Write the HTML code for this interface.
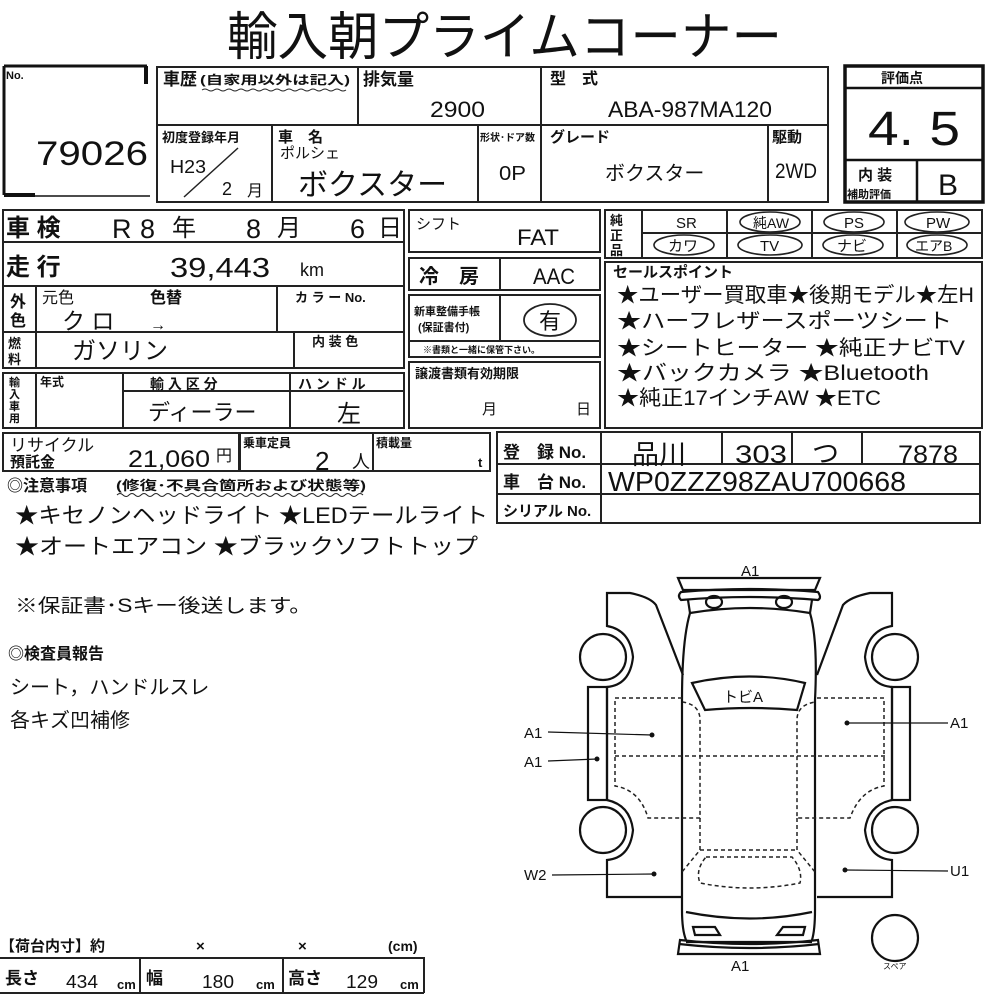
<!DOCTYPE html>
<html><head><meta charset="utf-8"><style>
html,body{margin:0;padding:0;background:#fff;}
svg{display:block;}
text{font-family:"Liberation Sans","Noto Sans CJK JP",sans-serif;fill:#111;}
.b{font-weight:bold;}
</style></head><body>
<svg width="1000" height="1000" viewBox="0 0 1000 1000" xmlns="http://www.w3.org/2000/svg">
<text x="227" y="55" font-size="52" textLength="555" lengthAdjust="spacingAndGlyphs">輸入朝プライムコーナー</text>

<g stroke="#111" fill="none">
<path d="M4 66 H147 M4 66 V195" stroke-width="3"/>
<path d="M146 66 V84" stroke-width="4"/>
<path d="M4 195 H35" stroke-width="4"/>
<path d="M35 196 H150" stroke-width="1.5"/>
</g>
<text x="6" y="79" font-size="11" class="b">No.</text>
<text x="36" y="165" font-size="34" textLength="112" lengthAdjust="spacingAndGlyphs">79026</text>

<g stroke="#222" fill="none" stroke-width="2">
<rect x="157" y="67" width="671" height="135"/>
<path d="M157 125 H828 M358 67 V125 M541 67 V202 M272 125 V202 M478 125 V202 M768 125 V202"/>
</g>
<text x="163" y="85" font-size="17" class="b">車歴</text>
<text x="200" y="84" font-size="12" class="b" textLength="150" lengthAdjust="spacingAndGlyphs">(自家用以外は記入)</text>
<path d="M202 90 q3 -2 6 0 t6 0 t6 0 t6 0 t6 0 t6 0 t6 0 t6 0 t6 0 t6 0 t6 0 t6 0 t6 0 t6 0 t6 0 t6 0 t6 0 t6 0 t6 0 t6 0 t6 0 t6 0 t6 0 t6 0" stroke="#222" fill="none" stroke-width="1"/>
<text x="363" y="85" font-size="17" class="b">排気量</text>
<text x="430" y="117" font-size="22" textLength="55" lengthAdjust="spacingAndGlyphs">2900</text>
<text x="550" y="84" font-size="16" class="b">型　式</text>
<text x="608" y="117" font-size="22" textLength="164" lengthAdjust="spacingAndGlyphs">ABA-987MA120</text>
<text x="162" y="142" font-size="13" class="b">初度登録年月</text>
<text x="170" y="173" font-size="18" textLength="36" lengthAdjust="spacingAndGlyphs">H23</text>
<line x1="184" y1="197" x2="238" y2="148" stroke="#222" stroke-width="1.5"/>
<text x="222" y="195" font-size="18">2</text>
<text x="247" y="196" font-size="16">月</text>
<text x="278" y="142" font-size="15" class="b">車　名</text>
<text x="280" y="158" font-size="15">ポルシェ</text>
<text x="298" y="195" font-size="30">ボクスター</text>
<text x="480" y="141" font-size="10" class="b">形状･ドア数</text>
<text x="499" y="180" font-size="20" textLength="27" lengthAdjust="spacingAndGlyphs">0P</text>
<text x="550" y="142" font-size="15" class="b">グレード</text>
<text x="605" y="180" font-size="20">ボクスター</text>
<text x="772" y="142" font-size="15" class="b">駆動</text>
<text x="775" y="178" font-size="21" textLength="42" lengthAdjust="spacingAndGlyphs">2WD</text>

<g stroke="#111" fill="none">
<rect x="845" y="66" width="138" height="136" stroke-width="3.5"/>
<path d="M845 88 H983 M845 160 H983 M917 160 V202" stroke-width="2.5"/>
</g>
<text x="881" y="83" font-size="14" class="b">評価点</text>
<text x="868" y="145" font-size="48" textLength="92" lengthAdjust="spacingAndGlyphs">4. 5</text>
<text x="858" y="180" font-size="15" class="b">内 装</text>
<text x="847" y="198" font-size="11" class="b">補助評価</text>
<text x="938" y="195" font-size="30">B</text>

<g stroke="#222" fill="none" stroke-width="2">
<rect x="3" y="210" width="401" height="158"/>
<path d="M3 242 H404 M3 286 H404 M3 332 H404 M36 286 V368 M277 286 V332 M294 332 V368"/>
<rect x="3" y="373" width="401" height="55"/>
<path d="M36 373 V428 M123 373 V428 M290 373 V428 M123 391 H404"/>
<rect x="3" y="433" width="236" height="38"/>
<rect x="240" y="433" width="133" height="38"/>
<rect x="373" y="433" width="117" height="38"/>
</g>
<text x="6" y="236" font-size="24" class="b">車 検</text>
<text x="112" y="238" font-size="27">R</text>
<text x="140" y="238" font-size="27">8</text>
<text x="172" y="236" font-size="24">年</text>
<text x="246" y="238" font-size="27">8</text>
<text x="277" y="236" font-size="24">月</text>
<text x="350" y="238" font-size="27">6</text>
<text x="378" y="236" font-size="24">日</text>
<text x="6" y="275" font-size="24" class="b">走 行</text>
<text x="170" y="277" font-size="28" textLength="100" lengthAdjust="spacingAndGlyphs">39,443</text>
<text x="300" y="276" font-size="18">km</text>
<text x="10" y="307" font-size="16" class="b">外</text>
<text x="10" y="326" font-size="16" class="b">色</text>
<text x="42" y="303" font-size="16">元色</text>
<text x="150" y="303" font-size="16" class="b">色替</text>
<text x="62" y="329" font-size="23">ク ロ</text>
<text x="150" y="330" font-size="16">→</text>
<text x="295" y="302" font-size="13" class="b">カ ラ ー No.</text>
<text x="8" y="348" font-size="13" class="b">燃</text>
<text x="8" y="364" font-size="13" class="b">料</text>
<text x="72" y="359" font-size="24">ガソリン</text>
<text x="312" y="346" font-size="13" class="b">内 装 色</text>
<text x="9" y="386" font-size="11" class="b">輸</text>
<text x="9" y="398" font-size="11" class="b">入</text>
<text x="9" y="410" font-size="11" class="b">車</text>
<text x="9" y="422" font-size="11" class="b">用</text>
<text x="40" y="386" font-size="12" class="b">年式</text>
<text x="150" y="389" font-size="14" class="b">輸 入 区 分</text>
<text x="298" y="389" font-size="14" class="b">ハ ン ド ル</text>
<text x="148" y="420" font-size="22">ディーラー</text>
<text x="337" y="422" font-size="24">左</text>
<text x="10" y="451" font-size="17">リサイクル</text>
<text x="10" y="467" font-size="15" class="b">預託金</text>
<text x="128" y="467" font-size="24" textLength="82" lengthAdjust="spacingAndGlyphs">21,060</text>
<text x="216" y="461" font-size="16">円</text>
<text x="243" y="447" font-size="12" class="b">乗車定員</text>
<text x="315" y="470" font-size="26">2</text>
<text x="352" y="468" font-size="18">人</text>
<text x="376" y="447" font-size="12" class="b">積載量</text>
<text x="478" y="467" font-size="13" class="b">t</text>

<g stroke="#222" fill="none" stroke-width="2">
<rect x="409" y="210" width="191" height="42"/>
<rect x="409" y="258" width="191" height="32"/>
<line x1="500" y1="258" x2="500" y2="290"/>
<rect x="409" y="295" width="191" height="62"/>
<path d="M409 341 H600 M500 295 V341"/>
<rect x="409" y="362" width="191" height="66"/>
</g>
<text x="416" y="229" font-size="15">シフト</text>
<text x="517" y="245" font-size="22" textLength="42" lengthAdjust="spacingAndGlyphs">FAT</text>
<text x="419" y="283" font-size="20" class="b">冷　房</text>
<text x="533" y="284" font-size="22" textLength="42" lengthAdjust="spacingAndGlyphs">AAC</text>
<text x="414" y="315" font-size="11" class="b">新車整備手帳</text>
<text x="418" y="331" font-size="11" class="b">(保証書付)</text>
<ellipse cx="550" cy="320" rx="26" ry="16" fill="none" stroke="#222" stroke-width="1.8"/>
<text x="539" y="329" font-size="22">有</text>
<text x="423" y="353" font-size="9" class="b">※書類と一緒に保管下さい。</text>
<text x="415" y="378" font-size="13" class="b">譲渡書類有効期限</text>
<text x="482" y="414" font-size="15">月</text>
<text x="576" y="414" font-size="15">日</text>

<g stroke="#222" fill="none" stroke-width="2">
<rect x="605" y="210" width="377" height="48"/>
<path d="M642 210 V258 M642 233 H982 M727 210 V258 M812 210 V258 M897 210 V258"/>
<rect x="605" y="262" width="377" height="166"/>
</g>
<text x="610" y="225" font-size="13" class="b">純</text>
<text x="610" y="240" font-size="13" class="b">正</text>
<text x="610" y="255" font-size="13" class="b">品</text>
<g fill="none" stroke="#222" stroke-width="1.6">
<ellipse cx="770" cy="222" rx="30" ry="10"/>
<ellipse cx="854" cy="222" rx="30" ry="10"/>
<ellipse cx="937" cy="222" rx="32" ry="10"/>
<ellipse cx="684" cy="245" rx="30" ry="10"/>
<ellipse cx="770" cy="245" rx="32" ry="10"/>
<ellipse cx="853" cy="245" rx="30" ry="10"/>
<ellipse cx="937" cy="245" rx="30" ry="10"/>
</g>
<text x="676" y="228" font-size="15">SR</text>
<text x="753" y="228" font-size="14">純AW</text>
<text x="844" y="228" font-size="15">PS</text>
<text x="926" y="228" font-size="15">PW</text>
<text x="668" y="251" font-size="15">カワ</text>
<text x="760" y="251" font-size="15">TV</text>
<text x="837" y="251" font-size="15">ナビ</text>
<text x="915" y="251" font-size="14">エアB</text>
<text x="613" y="277" font-size="15" class="b">セールスポイント</text>
<text x="617" y="302" font-size="21" textLength="357" lengthAdjust="spacingAndGlyphs">★ユーザー買取車★後期モデル★左H</text>
<text x="617" y="328" font-size="21" textLength="335" lengthAdjust="spacingAndGlyphs">★ハーフレザースポーツシート</text>
<text x="617" y="355" font-size="21" textLength="348" lengthAdjust="spacingAndGlyphs">★シートヒーター ★純正ナビTV</text>
<text x="617" y="380" font-size="21" textLength="312" lengthAdjust="spacingAndGlyphs">★バックカメラ ★Bluetooth</text>
<text x="617" y="405" font-size="21" textLength="264" lengthAdjust="spacingAndGlyphs">★純正17インチAW ★ETC</text>

<g stroke="#222" fill="none" stroke-width="2">
<rect x="497" y="432" width="483" height="91"/>
<path d="M497 464 H980 M497 494 H980 M601 432 V523 M722 432 V464 M792 432 V464 M862 432 V464"/>
</g>
<text x="503" y="458" font-size="17" class="b">登　録 No.</text>
<text x="503" y="488" font-size="17" class="b">車　台 No.</text>
<text x="503" y="516" font-size="15" class="b">シリアル No.</text>
<text x="632" y="464" font-size="27">品川</text>
<text x="735" y="463" font-size="25" textLength="52" lengthAdjust="spacingAndGlyphs">303</text>
<text x="812" y="463" font-size="27">つ</text>
<text x="898" y="463" font-size="25" textLength="60" lengthAdjust="spacingAndGlyphs">7878</text>
<text x="608" y="491" font-size="28" textLength="298" lengthAdjust="spacingAndGlyphs">WP0ZZZ98ZAU700668</text>

<text x="7" y="491" font-size="16" class="b">◎注意事項</text>
<text x="116" y="490" font-size="13" class="b" textLength="250" lengthAdjust="spacingAndGlyphs">(修復･不具合箇所および状態等)</text>
<path d="M117 495 q3 -3 6 0 t6 0 t6 0 t6 0 t6 0 t6 0 t6 0 t6 0 t6 0 t6 0 t6 0 t6 0 t6 0 t6 0 t6 0 t6 0 t6 0 t6 0 t6 0 t6 0 t6 0 t6 0 t6 0 t6 0 t6 0 t6 0 t6 0 t6 0 t6 0 t6 0 t6 0 t6 0 t6 0 t6 0 t6 0 t6 0 t6 0 t6 0 t6 0 t6 0 t6 0" stroke="#222" fill="none" stroke-width="1"/>
<text x="15" y="523" font-size="22" textLength="473" lengthAdjust="spacingAndGlyphs">★キセノンヘッドライト ★LEDテールライト</text>
<text x="15" y="554" font-size="22" textLength="463" lengthAdjust="spacingAndGlyphs">★オートエアコン ★ブラックソフトトップ</text>
<text x="15" y="612" font-size="19" textLength="297" lengthAdjust="spacingAndGlyphs">※保証書･Sキー後送します。</text>
<text x="8" y="659" font-size="16" class="b">◎検査員報告</text>
<text x="10" y="694" font-size="20">シート，ハンドルスレ</text>
<text x="10" y="727" font-size="20">各キズ凹補修</text>

<text x="0" y="951" font-size="15" class="b">【荷台内寸】約</text>
<text x="196" y="951" font-size="15" class="b">×</text>
<text x="298" y="951" font-size="15" class="b">×</text>
<text x="388" y="951" font-size="14" class="b">(cm)</text>
<g stroke="#222" fill="none" stroke-width="2">
<path d="M0 958 H424 V993 M0 993 H424 M140 958 V993 M283 958 V993"/>
</g>
<text x="5" y="984" font-size="17" class="b">長さ</text>
<text x="66" y="988" font-size="18" textLength="32" lengthAdjust="spacingAndGlyphs">434</text>
<text x="117" y="989" font-size="13" class="b">cm</text>
<text x="146" y="984" font-size="17" class="b">幅</text>
<text x="202" y="988" font-size="18" textLength="32" lengthAdjust="spacingAndGlyphs">180</text>
<text x="256" y="989" font-size="13" class="b">cm</text>
<text x="288" y="984" font-size="17" class="b">高さ</text>
<text x="346" y="988" font-size="18" textLength="32" lengthAdjust="spacingAndGlyphs">129</text>
<text x="400" y="989" font-size="13" class="b">cm</text>

<g stroke="#111" fill="none" stroke-width="2.2">
<path d="M678 578 H820 L815 590 H683 Z"/>
<path d="M681 592 Q750 586 818 592 Q822 598 818 600 Q750 594 681 600 Q677 596 681 592 Z"/>
<ellipse cx="714" cy="602" rx="8" ry="6"/>
<ellipse cx="784" cy="602" rx="8" ry="6"/>
<path d="M688 600 L690 613 Q750 603 810 613 L812 600"/>
<path d="M690 613 Q682 640 682 700 V910 Q682 930 686 940 M810 613 Q818 640 815 700 V910 Q815 930 812 940"/>
<path d="M686 912 Q750 925 812 912"/>
<path d="M686 942 H812"/>
<path d="M693 927 H715 L720 935 H695 Z"/>
<path d="M805 927 H783 L777 935 H803 Z"/>
<path d="M680 940 Q750 948 818 940 L820 954 H678 Z"/>
<path d="M679 944 Q750 952 819 944"/>
<path d="M692 683 Q750 670 805 683 L797 710 Q750 706 705 710 Z"/>
<path d="M683 675 L656 605 Q650 597 630 593 L607 593 V626 Q630 630 633 657 Q630 685 607 687 V800 Q630 805 633 830 Q630 858 607 860 V897 H682"/>
<circle cx="603" cy="657" r="23"/>
<circle cx="603" cy="830" r="23"/>
<rect x="588" y="687" width="19" height="113"/>
<path d="M817 675 L843 605 Q850 597 870 593 L892 593 V626 Q868 630 865 657 Q868 685 892 687 V800 Q868 805 865 830 Q868 858 892 860 V897 H817"/>
<circle cx="895" cy="657" r="23"/>
<circle cx="895" cy="830" r="23"/>
<rect x="892" y="687" width="18" height="113"/>
<circle cx="895" cy="938" r="23"/>
</g>
<g stroke="#222" fill="none" stroke-width="1.5" stroke-dasharray="4,3">
<path d="M682 698 H615 V786 Q640 790 648 818 H700 V720 Q700 705 683 702"/>
<path d="M615 756 H885"/>
<path d="M817 698 H884 V786 Q860 790 850 818 H797 V720 Q797 705 815 702"/>
<path d="M700 818 V850 L682 872 M797 818 V850 L815 872"/>
<path d="M700 850 H797 M706 857 H792 Q803 870 800 883 Q750 893 700 883 Q695 870 706 857"/>
</g>
<g stroke="#111" stroke-width="1.2" fill="none">
<path d="M548 732 L652 735 M548 761 L597 759 M552 875 L654 874 M847 723 L948 723 M845 870 L948 871"/>
</g>
<g fill="#111">
<circle cx="652" cy="735" r="2.5"/><circle cx="597" cy="759" r="2.5"/><circle cx="654" cy="874" r="2.5"/>
<circle cx="847" cy="723" r="2.5"/><circle cx="845" cy="870" r="2.5"/>
</g>
<text x="741" y="576" font-size="15">A1</text>
<text x="723" y="702" font-size="15">トビA</text>
<text x="524" y="738" font-size="15">A1</text>
<text x="524" y="767" font-size="15">A1</text>
<text x="524" y="880" font-size="15">W2</text>
<text x="950" y="728" font-size="15">A1</text>
<text x="950" y="876" font-size="15">U1</text>
<text x="731" y="971" font-size="15">A1</text>
<text x="883" y="969" font-size="8">スペア</text>
</svg>
</body></html>
